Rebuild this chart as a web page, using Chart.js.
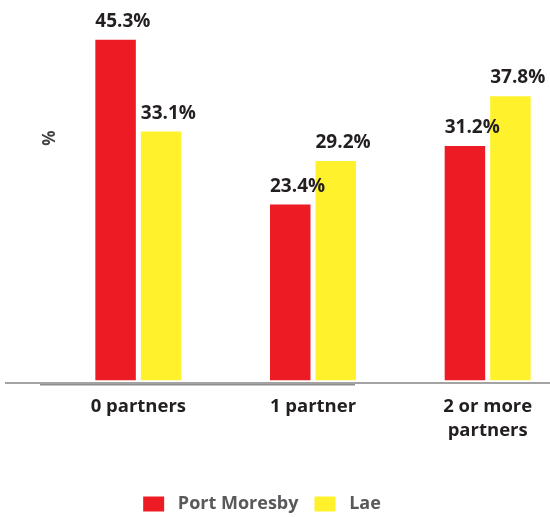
<!DOCTYPE html>
<html>
<head>
<meta charset="utf-8">
<script src="https://cdn.jsdelivr.net/npm/chart.js@4.4.1/dist/chart.umd.min.js"></script>
<style>
  html, body { margin: 0; padding: 0; background: #fff; }
  #wrap { position: relative; width: 550px; height: 517px; overflow: hidden; }
  #chart { position: absolute; left: -51px; top: 0; }
</style>
</head>
<body>
<div id="wrap"><canvas id="chart" width="626" height="523"></canvas></div>
<script>
// chart data
const categories = ['0 partners', '1 partner', ['2 or more', 'partners']];
const portMoresby = [45.3, 23.4, 31.2];
const lae = [33.1, 29.2, 37.8];
const seriesNames = ['Port Moresby', 'Lae'];

const SHIFT = 51; // canvas is moved left by this much
const FONT = "'Open Sans', 'Noto Sans', sans-serif";

// value labels above each bar, left edge lined up with the bar
const valueLabels = {
    id: 'valueLabels',
    afterDatasetsDraw(chart) {
        const ctx = chart.ctx;
        ctx.save();
        ctx.font = 'bold 19px ' + FONT;
        ctx.fillStyle = '#231f20';
        ctx.textAlign = 'left';
        ctx.textBaseline = 'alphabetic';
        chart.data.datasets.forEach((ds, i) => {
            chart.getDatasetMeta(i).data.forEach((bar, j) => {
                ctx.fillText(ds.data[j].toFixed(1) + '%', bar.x - bar.width / 2, bar.y - 13);
            });
        });
        ctx.restore();
    }
};

// gray base line and the rotated "%" unit
const axisDecor = {
    id: 'axisDecor',
    afterDatasetsDraw(chart) {
        const ctx = chart.ctx;
        const y0 = chart.scales.y.getPixelForValue(0);
        ctx.save();
        ctx.fillStyle = '#a3a3a3';
        ctx.fillRect(SHIFT + 5, y0 + 1.5, 545, 2);
        ctx.fillStyle = '#8e8e8e';
        ctx.fillRect(SHIFT + 40, y0 + 3.5, 315, 1.5);

        ctx.translate(SHIFT + 50, 138);
        ctx.rotate(-Math.PI / 2);
        ctx.font = 'bold 17px ' + FONT;
        ctx.fillStyle = '#414042';
        ctx.textAlign = 'center';
        ctx.textBaseline = 'middle';
        ctx.fillText('%', 0, 0);
        ctx.restore();
    }
};

new Chart(document.getElementById('chart'), {
    type: 'bar',
    data: {
        labels: categories,
        datasets: [{
            label: seriesNames[0],
            data: portMoresby,
            backgroundColor: '#ed1c24',
            borderWidth: 0
        }, {
            label: seriesNames[1],
            data: lae,
            backgroundColor: '#fff22d',
            borderWidth: 0
        }]
    },
    options: {
        responsive: false,
        animation: false,
        devicePixelRatio: 1,
        categoryPercentage: 0.521,
        barPercentage: 0.89,
        layout: {
            padding: { top: 4.5, left: 0, right: 0, bottom: 0 }
        },
        plugins: {
            tooltip: { enabled: false },
            legend: {
                position: 'bottom',
                labels: {
                    boxWidth: 21,
                    boxHeight: 15,
                    padding: 16,
                    color: '#58595b',
                    font: { family: FONT, size: 18, weight: 'bold' },
                    generateLabels: function (chart) {
                        return Chart.defaults.plugins.legend.labels.generateLabels(chart)
                            .map(item => Object.assign(item, { text: ' ' + item.text }));
                    }
                }
            }
        },
        scales: {
            x: {
                grid: { display: false, drawTicks: false },
                border: { display: false },
                ticks: {
                    color: '#231f20',
                    padding: 14,
                    maxRotation: 0,
                    font: { family: FONT, size: 18.5, weight: 'bold', lineHeight: 1.3 }
                },
                afterFit: function (scale) { scale.height = 98.5; }
            },
            y: {
                min: 0,
                max: 50,
                grid: { display: false },
                border: { display: false },
                ticks: { display: false },
                afterFit: function (scale) { scale.width = 102; }
            }
        }
    },
    plugins: [valueLabels, axisDecor]
});
</script>
</body>
</html>
